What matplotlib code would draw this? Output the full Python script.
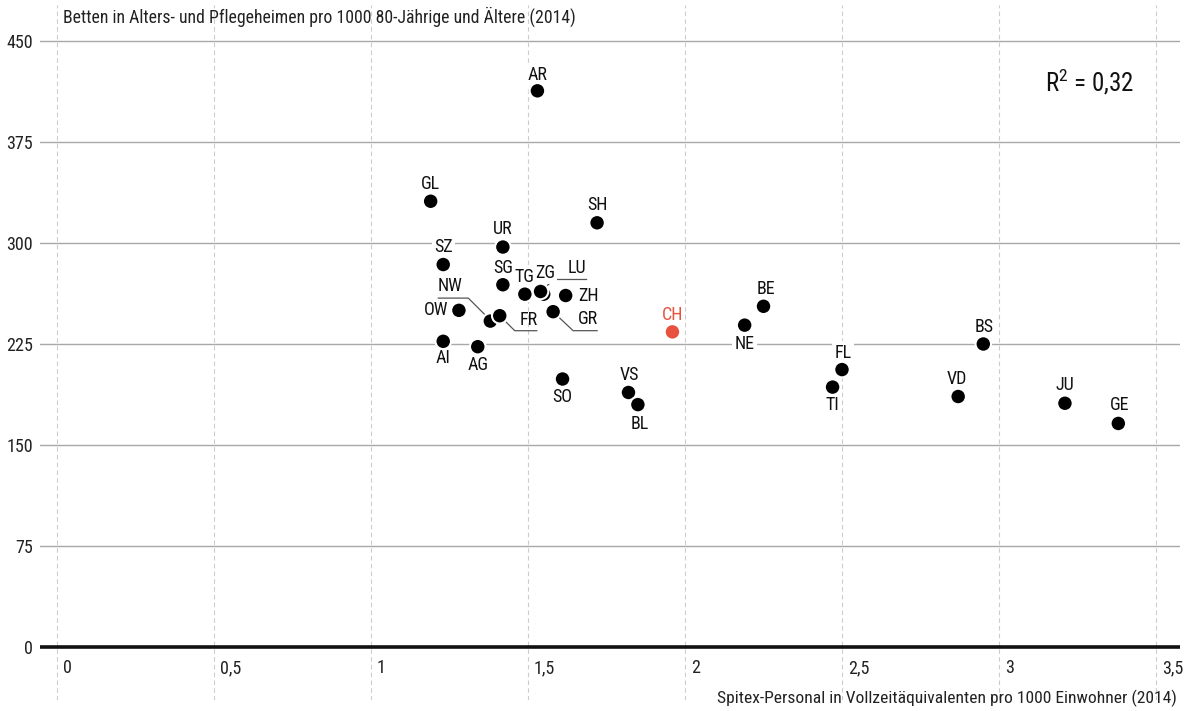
import matplotlib
matplotlib.use("Agg")
import matplotlib.pyplot as plt
import matplotlib.transforms as mtransforms
from matplotlib.lines import Line2D
from matplotlib import font_manager as fm

# ---- pick a condensed font if installed ----
_fonts = fm.fontManager.ttflist
_names = {f.name for f in _fonts}
_stretch = 'normal'
_family = 'DejaVu Sans'
for cand in ['Roboto Condensed', 'Liberation Sans Narrow', 'Open Sans Condensed',
             'Noto Sans Condensed', 'DejaVu Sans Condensed']:
    if cand in _names:
        _family = cand
        break
else:
    if any(f.name == 'DejaVu Sans' and f.stretch in ('condensed', 'semi-condensed', 600, 500)
           for f in _fonts):
        _stretch = 'condensed'
plt.rcParams['font.family'] = [_family, 'DejaVu Sans']
plt.rcParams['font.stretch'] = _stretch
plt.rcParams['mathtext.fontset'] = 'custom'
plt.rcParams['mathtext.rm'] = _family
plt.rcParams['mathtext.it'] = _family

# ---- data ----
cantons = ['AR', 'GL', 'SH', 'UR', 'SZ', 'SG', 'TG', 'ZG', 'LU', 'ZH', 'GR', 'NW', 'FR',
           'OW', 'AI', 'AG', 'SO', 'VS', 'BL', 'CH', 'NE', 'BE', 'FL', 'TI', 'VD', 'BS',
           'JU', 'GE']
spitex = [1.53, 1.19, 1.72, 1.42, 1.23, 1.42, 1.49, 1.55, 1.54, 1.62, 1.58, 1.38, 1.41,
          1.28, 1.23, 1.34, 1.61, 1.82, 1.85, 1.96, 2.19, 2.25, 2.50, 2.47, 2.87, 2.95,
          3.21, 3.38]
betten = [413, 331, 315, 297, 284, 269, 262, 262, 264, 261, 249, 242, 246,
          250, 227, 223, 199, 189, 180, 234, 239, 253, 206, 193, 186, 225,
          181, 166]
highlight = 'CH'
r2_text = r'R$^{\mathrm{2}}$ = 0,32'
xticks = [0, 0.5, 1, 1.5, 2, 2.5, 3, 3.5]
xtick_labels = ['0', '0,5', '1', '1,5', '2', '2,5', '3', '3,5']
yticks = [0, 75, 150, 225, 300, 375, 450]
ylabel = 'Betten in Alters- und Pflegeheimen pro 1000 80-Jährige und Ältere (2014)'
xlabel = 'Spitex-Personal in Vollzeitäquivalenten pro 1000 Einwohner (2014)'

# label placement (pixel offsets from dot: dx, dy up), optional leader path
label_pos = {
    'AR': (0, 16), 'GL': (0, 17), 'SH': (0, 18), 'UR': (0, 18), 'SZ': (0, 18),
    'SG': (0, 17), 'TG': (0, 17), 'ZG': (1, 21), 'LU': (36, 23), 'ZH': (23, 0),
    'GR': (35, -7), 'NW': (-40, 35), 'FR': (29, -4), 'OW': (-23, 0), 'AI': (0, -17),
    'AG': (0, -18), 'SO': (0, -18), 'VS': (1, 17), 'BL': (2, -19), 'CH': (0, 17),
    'NE': (0, -19), 'BE': (2, 17), 'FL': (1, 17), 'TI': (0, -18), 'VD': (-1, 18),
    'BS': (1, 17), 'JU': (0, 18), 'GE': (1, 18),
}
leaders = {
    'NW': [(-5, 6), (-22, 23), (-52, 23)],
    'FR': [(3, -3), (15, -15), (37, -15)],
    'LU': [(3, 3), (14, 12), (46, 12)],
    'GR': [(3, -3), (20, -19), (44, -19)],
}

W, H = 1195, 711
fig = plt.figure(figsize=(W / 100, H / 100), dpi=100)
left_px, right_px, top_px, bottom_px = 40, 1180, 5, 700
ax = fig.add_axes([left_px / W, 1 - bottom_px / H, (right_px - left_px) / W,
                   (bottom_px - top_px) / H])

xppu = 314.0
yppu = 606 / 450
ax.set_xlim((left_px - 57) / xppu, (right_px - 57) / xppu)
ax.set_ylim((647 - bottom_px) / yppu, (647 - top_px) / yppu)

for s in ax.spines.values():
    s.set_visible(False)

# grid
for yv in yticks[1:]:
    ax.axhline(yv, color='#a8a8a8', lw=1.0, zorder=0)
for xv in xticks:
    ax.axvline(xv, color='#cccccc', lw=0.8, ls=(0, (4, 3)), zorder=0)
ax.axhline(0, color='#111111', lw=2.6, zorder=1)

ax.set_xticks([])
ax.set_yticks(yticks)
ax.set_yticklabels([str(v) for v in yticks])
ax.tick_params(axis='y', length=0, pad=5, labelsize=13, labelcolor='#222222')

for xv, lab in zip(xticks, xtick_labels):
    tr = ax.transData + mtransforms.ScaledTranslation(6 / 100, -21 / 100, fig.dpi_scale_trans)
    ax.text(xv, 0, lab, transform=tr, ha='left', va='center', fontsize=13, color='#222222')

# points
colors = ['#e8503f' if c == highlight else '#000000' for c in cantons]
ax.scatter(spitex, betten, s=125, c=colors, edgecolors='white', linewidths=1.5, zorder=5)

# leaders
for c, pts in leaders.items():
    i = cantons.index(c)
    base = ax.transData.transform((spitex[i], betten[i]))
    xs = [base[0] + p[0] for p in pts]
    ys = [base[1] + p[1] for p in pts]
    ax.add_line(Line2D(xs, ys, transform=None, color='#555555', lw=0.9, zorder=3))

# labels
for c, xv, yv in zip(cantons, spitex, betten):
    dx, dy = label_pos[c]
    col = '#e8503f' if c == highlight else '#111111'
    bbox = None if c in leaders else dict(facecolor='white', edgecolor='none', pad=1.5)
    ax.annotate(c, (xv, yv), xytext=(dx, dy), textcoords='offset pixels',
                ha='center', va='center', fontsize=13, color=col, bbox=bbox, zorder=4)

# titles
fig.text(63 / W, 1 - 17 / H, ylabel, ha='left', va='center', fontsize=12.8, color='#222222')
fig.text(1177 / W, 1 - 698 / H, xlabel, ha='right', va='center', fontsize=12.6, color='#222222')
fig.text(1090 / W, 1 - 82 / H, r2_text, ha='center', va='center', fontsize=18, color='#111111')

fig.savefig('out.png', dpi=100)
